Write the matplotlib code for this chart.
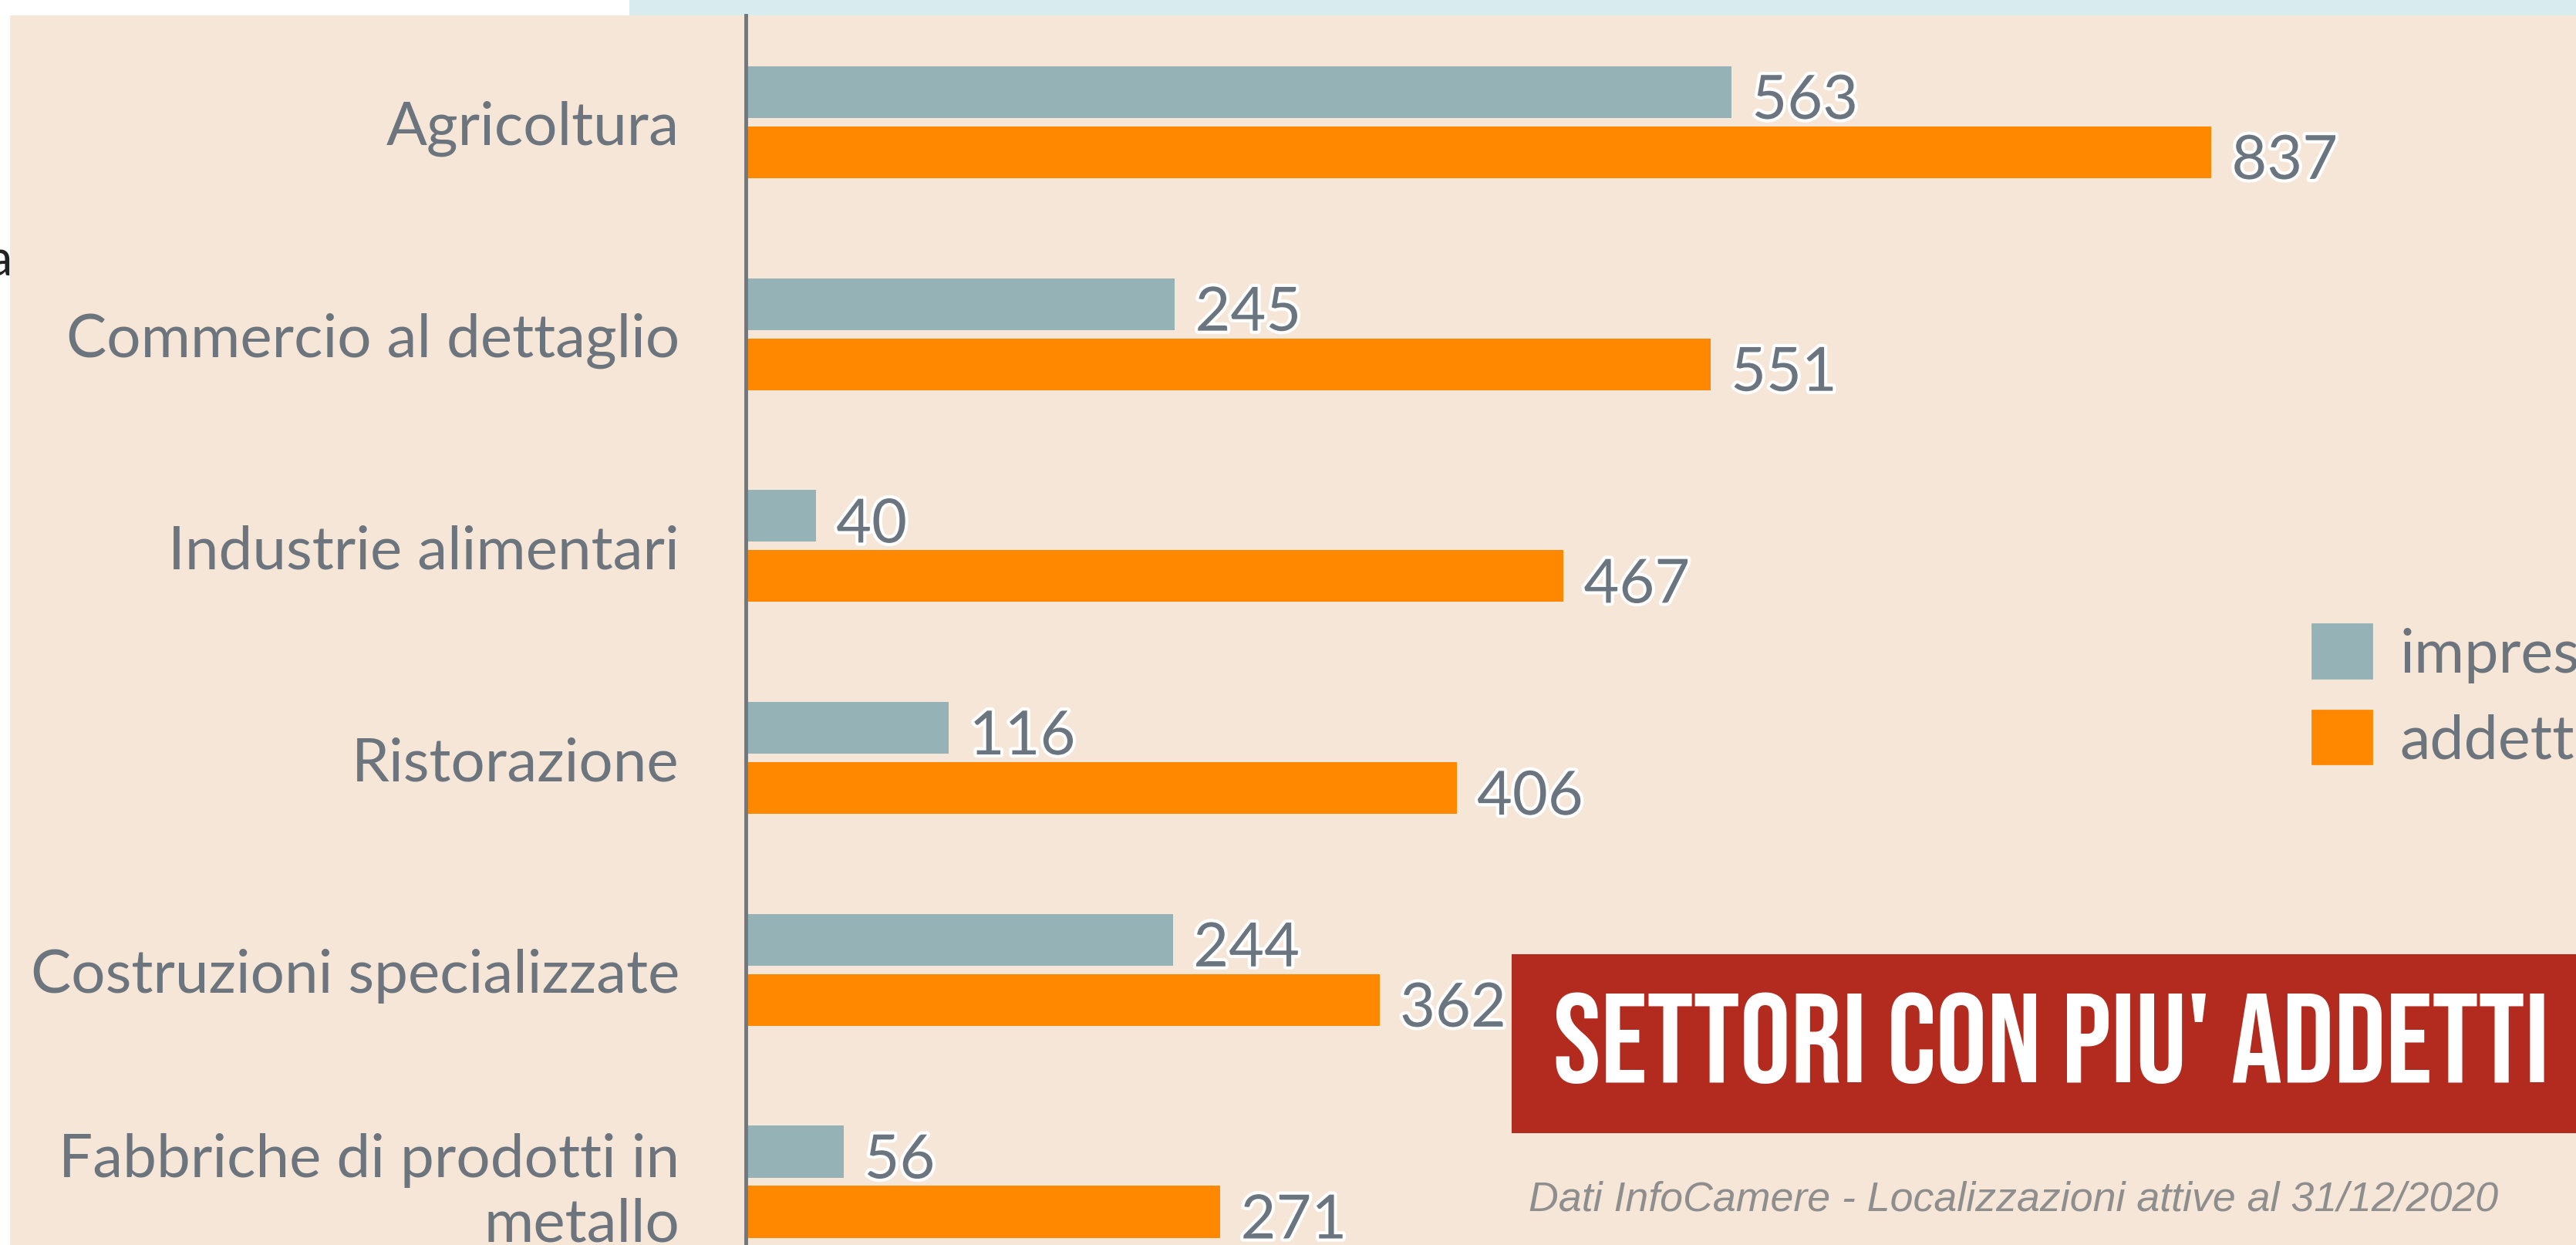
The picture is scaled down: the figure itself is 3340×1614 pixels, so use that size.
import numpy as np
import matplotlib
matplotlib.use('Agg')
import matplotlib.pyplot as plt
import matplotlib.patheffects as pe
from matplotlib.patches import Rectangle, Patch

# dati
categorie = ['Agricoltura', 'Commercio al dettaglio', 'Industrie alimentari',
             'Ristorazione', 'Costruzioni specializzate',
             'Fabbriche di prodotti in\nmetallo']
imprese = [563, 245, 40, 116, 244, 56]
addetti = [837, 551, 467, 406, 362, 271]
serie = ['impresa', 'addetti']
titolo = "SETTORI CON PIU' ADDETTI"
nota = 'Dati InfoCamere - Localizzazioni attive al 31/12/2020'

# colori
beige = '#f6e6d7'
azzurro = '#d8ebef'
grigio_blu = '#95b3b7'
arancio = '#ff8800'
rosso = '#b22b1e'
testo = '#6c757d'

W, H = 3341, 1615
fig = plt.figure(figsize=(W / 100, H / 100), dpi=100, facecolor='white')

def fx(px):
    return px / W

def fy(py):
    return 1 - py / H

# sfondo pagina
fig.patches.append(Rectangle((fx(13), 0), 1, fy(21), transform=fig.transFigure,
                             facecolor=beige, edgecolor='none', zorder=-2))
fig.patches.append(Rectangle((fx(816), fy(21)), 1, 1, transform=fig.transFigure,
                             facecolor=azzurro, edgecolor='none', zorder=-2))
fig.text(fx(16), fy(357), 'a', ha='right', va='baseline', fontsize=47,
         family='Lato', color='#222222')

ax = fig.add_axes([fx(967), 0, 1 - fx(967), fy(21)])
ax.set_facecolor('none')
ax.set_zorder(1)

y = np.arange(len(categorie))
h = 0.244
off = 0.142
ax.barh(y - off, imprese, height=h, color=grigio_blu, label=serie[0])
ax.barh(y + off, addetti, height=h, color=arancio, label=serie[1])

# etichette valori con bordo bianco
contorno = [pe.withStroke(linewidth=6, foreground='white')]
for yi, v in zip(y - off, imprese):
    ax.annotate(str(v), (v, yi), xytext=(19, -9), textcoords='offset points',
                va='center', ha='left', fontsize=57, family='Lato',
                color='#6b7580', path_effects=contorno)
for yi, v in zip(y + off, addetti):
    ax.annotate(str(v), (v, yi), xytext=(19, -9), textcoords='offset points',
                va='center', ha='left', fontsize=57, family='Lato',
                color='#6b7580', path_effects=contorno)

ax.set_xlim(0, (W - 967) / 2.27)
ax.set_ylim(5.2985, -0.504)
ax.set_yticks(y)
ax.set_yticklabels(categorie, fontsize=56.3, family='Lato', color=testo,
                   linespacing=1.22)
ax.tick_params(axis='y', length=0, pad=62)
ax.set_xticks([])
for s in ['top', 'right', 'bottom']:
    ax.spines[s].set_visible(False)
ax.spines['left'].set_color('#6f7780')
ax.spines['left'].set_linewidth(3.5)

handles = [Patch(facecolor=grigio_blu, edgecolor=grigio_blu, linewidth=2, joinstyle='round'),
           Patch(facecolor=arancio, edgecolor=arancio, linewidth=2, joinstyle='round')]
fig.legend(handles, serie, loc='center left', bbox_to_anchor=(fx(2998), fy(904)),
           frameon=False, prop={'family': 'Lato', 'size': 57},
           labelcolor=testo, handlelength=0.97, handleheight=0.97,
           handletextpad=0.46, labelspacing=0.45, borderpad=0, borderaxespad=0)

# riquadro titolo
fig.patches.append(Rectangle((fx(1960), fy(1470)), 1, (1470 - 1238) / H,
                             transform=fig.transFigure, facecolor=rosso,
                             edgecolor='none', zorder=5))
fig.text(fx(2014), fy(1346), titolo, ha='left', va='center', color='white',
         fontsize=119, family=['Bebas Neue', 'Oswald', 'DejaVu Sans'], zorder=6)

fig.text(fx(1982), fy(1556), nota, ha='left', va='center', color='#8e8e8e',
         fontsize=38.7, style='italic', family='Liberation Sans', zorder=6)

fig.savefig('out.png', dpi=100, facecolor=fig.get_facecolor())
